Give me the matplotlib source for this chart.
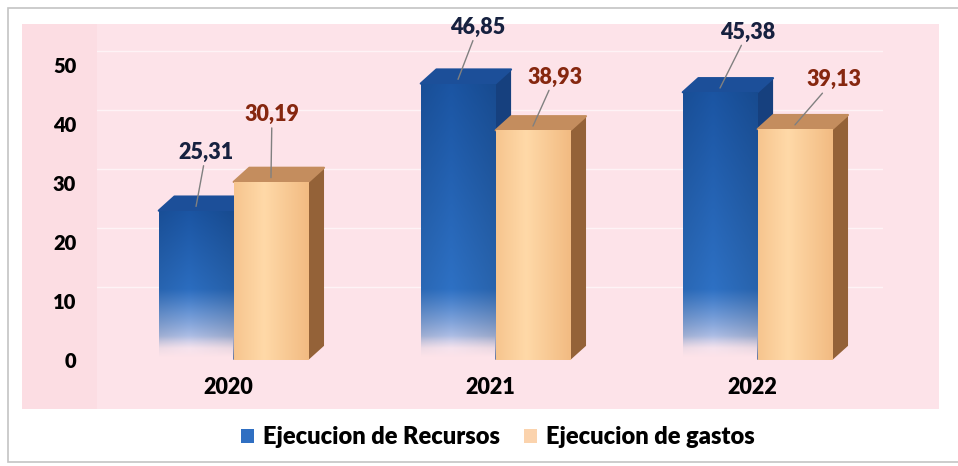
import numpy as np
import matplotlib.pyplot as plt
from matplotlib.patches import Polygon, Rectangle, Patch
from matplotlib.colors import to_rgb

# data
years = ['2020', '2021', '2022']
recursos = [25.31, 46.85, 45.38]
gastos = [30.19, 38.93, 39.13]
rec_labels = ['25,31', '46,85', '45,38']
gas_labels = ['30,19', '38,93', '39,13']
yticks = [0, 10, 20, 30, 40, 50]

# label offsets (pixels) from the top of each bar
rec_offsets = [(10, 54), (20, 52), (28, 56)]
gas_offsets = [(1, 63), (22, 49), (39, 45)]

plt.rcParams['font.family'] = ['Lato', 'DejaVu Sans']
plt.rcParams['font.weight'] = 'heavy'

W, H = 958, 466
fig = plt.figure(figsize=(W / 100, H / 100), dpi=100)

# outer frame and pink back wall
fig.patches.append(Rectangle((8 / W, 4 / H), 960 / W, 454 / H, transform=fig.transFigure,
                             fc='white', ec='#c4c4c4', lw=1.2, zorder=-3))
fig.patches.append(Rectangle((22 / W, 57 / H), 917 / W, 385 / H, transform=fig.transFigure,
                             fc='#fde3e9', ec='none', zorder=-2))
fig.patches.append(Rectangle((22 / W, 57 / H), 75 / W, 385 / H, transform=fig.transFigure,
                             fc='#fcdde3', ec='none', zorder=-1))

ax = fig.add_axes([97 / W, (H - 360) / H, 786 / W, 55 * 5.9 / H])
ax.set_facecolor('none')
ax.set_xlim(-0.5, 2.5)
ax.set_ylim(0, 55)
for s in ax.spines.values():
    s.set_visible(False)

dx, dy = 0.06, 2.4   # fake 3D depth
width = 0.285
x = np.arange(len(years))

# faint gridlines on the back wall
for t in yticks[1:]:
    ax.axhline(t + dy, color='white', lw=1, alpha=0.6, zorder=1)


def mix(c1, c2, t):
    c1, c2 = np.array(to_rgb(c1)), np.array(to_rgb(c2))
    t = np.asarray(t)[..., None]
    return c1 * (1 - t) + c2 * t


def blue_grad(h, n=300, m=40):
    yv = np.linspace(0, h, n)
    # blue getting darker towards the top, washing out to lavender near the floor
    base = mix('#3074c8', '#1b55a3', np.clip((yv - 8) / (h - 8), 0, 1))
    t = np.clip((yv - 2) / 10, 0, 1) ** 0.7
    col = np.array(to_rgb('#ebe2f3')) * (1 - t[:, None]) + base * t[:, None]
    alpha = np.clip((yv - 0.5) / 3.5, 0, 1)
    img = np.zeros((n, m, 4))
    xs = np.linspace(0, 1, m)
    shade = 1 - 0.12 * np.abs(xs - 0.4) / 0.6
    img[..., :3] = np.clip(col[:, None, :] * shade[None, :, None], 0, 1)
    img[..., 3] = alpha[:, None]
    return img


def orange_grad(n=10, m=60):
    xs = np.linspace(0, 1, m)
    t = 1 - np.clip(np.abs(xs - 0.4) / 0.6, 0, 1)
    col = mix('#f2bb82', '#ffd9a8', t)
    img = np.ones((n, m, 4))
    img[..., :3] = col[None, :, :]
    return img


def draw_3d(bar, front_img, top_c, side_c, z):
    x0 = bar.get_x()
    x1 = x0 + bar.get_width()
    h = bar.get_height()
    side = Polygon([(x1, 0), (x1 + dx, dy), (x1 + dx, h + dy), (x1, h)],
                   closed=True, fc=side_c, ec='none', zorder=z)
    top = Polygon([(x0, h), (x1, h), (x1 + dx, h + dy), (x0 + dx, h + dy)],
                  closed=True, fc=top_c, ec=top_c, lw=1.5, joinstyle='round', zorder=z)
    ax.add_patch(side)
    ax.add_patch(top)
    im = ax.imshow(front_img, extent=(x0, x1, 0, h), origin='lower', aspect='auto',
                   zorder=z + 0.1, interpolation='bilinear')
    im.set_clip_path(bar)


b_rec = ax.bar(x - 0.122, recursos, width, color='none', zorder=3)
b_gas = ax.bar(x + 0.164, gastos, width, color='none', zorder=5)

for i in range(len(years)):
    draw_3d(b_rec[i], blue_grad(recursos[i]), '#1c4f99', '#16407e', 3 + i * 4)
    draw_3d(b_gas[i], orange_grad(), '#c48d5e', '#946238', 5 + i * 4)

ax.set_xlim(-0.5, 2.5)
ax.set_ylim(0, 55)

for i in range(len(years)):
    bx = b_rec[i].get_x() + width / 2
    ax.annotate(rec_labels[i], xy=(bx, recursos[i] + dy * 0.3), xytext=rec_offsets[i],
                textcoords='offset pixels', ha='center', va='center', fontsize=15.5,
                color='#16213f', annotation_clip=False, zorder=20,
                arrowprops=dict(arrowstyle='-', color='#808080', lw=1, shrinkA=0, shrinkB=0))
    gx = b_gas[i].get_x() + width / 2
    ax.annotate(gas_labels[i], xy=(gx, gastos[i] + dy * 0.3), xytext=gas_offsets[i],
                textcoords='offset pixels', ha='center', va='center', fontsize=15.5,
                color='#86270f', annotation_clip=False, zorder=20,
                arrowprops=dict(arrowstyle='-', color='#808080', lw=1, shrinkA=0, shrinkB=0))

ax.set_yticks(yticks)
ax.set_yticklabels([str(t) for t in yticks], fontsize=14.5)
ax.set_xticks(x)
ax.set_xticklabels(years, fontsize=15.5)
ax.tick_params(axis='y', length=0, pad=15)
ax.tick_params(axis='x', length=0, pad=12)

handles = [Patch(fc='#2f6fc2', ec='none'), Patch(fc='#fbd3ad', ec='none')]
fig.legend(handles, ['Ejecucion de Recursos', 'Ejecucion de gastos'], loc='center',
           bbox_to_anchor=(498 / W, 1 - 437 / H), ncol=2, frameon=False, fontsize=17,
           handlelength=0.55, handleheight=0.55, handletextpad=0.4, columnspacing=1.0)

fig.savefig('out.png', dpi=100)
